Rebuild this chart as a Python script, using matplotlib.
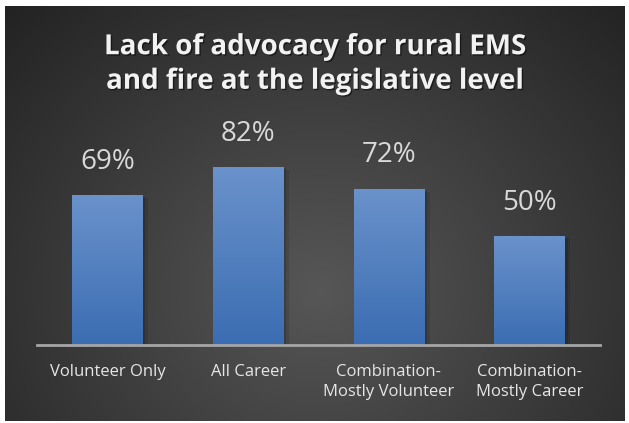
import numpy as np
import matplotlib.pyplot as plt
import matplotlib.patheffects as pe

categories = ["Volunteer Only", "All Career", "Combination-\nMostly Volunteer", "Combination-\nMostly Career"]
values = [69, 82, 72, 50]
title = "Lack of advocacy for rural EMS\nand fire at the legislative level"

W, H = 629, 423
fig = plt.figure(figsize=(W / 100, H / 100), dpi=100)
fig.patch.set_facecolor("white")

# dark panel with a soft radial gradient
bg = fig.add_axes([0, 0, 1, 1])
bg.set_xlim(0, W)
bg.set_ylim(H, 0)
bg.axis("off")
yy, xx = np.mgrid[0:H, 0:W]
r = np.sqrt(((xx - 320) / 420) ** 2 + ((yy - 290) / 380) ** 2)
shade = np.clip(0.34 - 0.19 * r, 0.13, 0.34)
img = np.dstack([shade, shade, shade])
bg.imshow(img, extent=(5, 625, 421, 6), interpolation="bilinear", zorder=0)

ax = fig.add_axes([37 / W, 78 / H, 563 / W, 217 / H])
ax.set_facecolor("none")
x = np.arange(len(categories))
bars = ax.bar(x, values, width=0.5, color="#4a7cc0", zorder=2)
ax.set_xlim(-0.5, len(categories) - 0.5)
ax.set_ylim(0, 100)

# vertical blue gradient inside each bar
grad = np.linspace(0, 1, 256).reshape(-1, 1)
top = np.array([0x6a, 0x92, 0xcb]) / 255
bottom = np.array([0x3b, 0x6d, 0xb2]) / 255
cols = bottom + (top - bottom) * grad
cols = cols.reshape(256, 1, 3)
for b in bars:
    b.set_path_effects([
        pe.SimplePatchShadow(offset=(4, -2), shadow_rgbFace="black", alpha=0.1),
        pe.SimplePatchShadow(offset=(2, -1), shadow_rgbFace="black", alpha=0.14),
        pe.Normal(),
    ])
    x0, w, h = b.get_x(), b.get_width(), b.get_height()
    im = ax.imshow(cols, extent=(x0, x0 + w, 0, h), origin="lower", aspect="auto", zorder=3)
    im.set_clip_path(b)

for xi, v in zip(x, values):
    ax.text(xi, v + 9, f"{v}%", ha="center", va="bottom", fontsize=20,
            family="Open Sans", color="#d9d9d9")

for s in ["top", "right", "left"]:
    ax.spines[s].set_visible(False)
ax.spines["bottom"].set_color("#a6a6a6")
ax.spines["bottom"].set_linewidth(2)
ax.spines["bottom"].set_zorder(4)
ax.set_yticks([])
ax.set_xticks(x)
ax.set_xticklabels(categories, fontsize=12, family="Open Sans", color="#e6e6e6", linespacing=1.3)
ax.tick_params(axis="x", length=0, pad=14)

fig.text(315 / W, 1 - 64 / H, title, ha="center", va="center", fontsize=20,
         fontweight="bold", family="Open Sans", color="#f2f2f2", linespacing=1.25,
         path_effects=[pe.withSimplePatchShadow(offset=(1, -1), shadow_rgbFace="black", alpha=0.5)])

fig.savefig("out.png", dpi=100, facecolor=fig.get_facecolor())
